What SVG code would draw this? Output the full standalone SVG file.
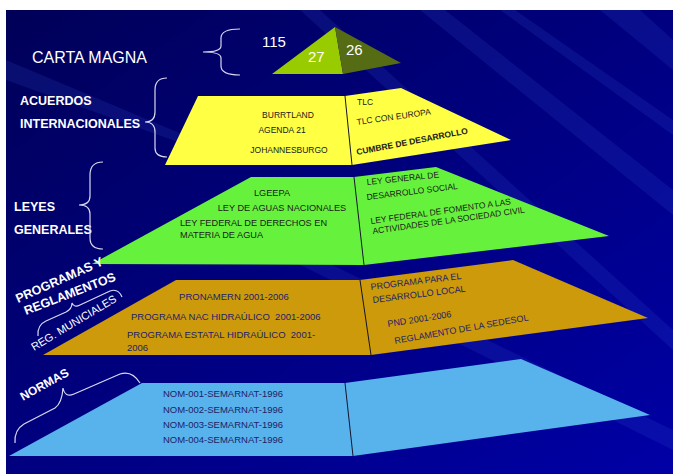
<svg xmlns="http://www.w3.org/2000/svg" width="673" height="474" viewBox="0 0 673 474">
<defs>
<linearGradient id="bg" x1="0" y1="0" x2="1" y2="1">
<stop offset="0" stop-color="#000058"/>
<stop offset="0.5" stop-color="#000080"/>
<stop offset="1" stop-color="#0000a6"/>
</linearGradient>
<style>
.lbl{font-family:"Liberation Sans",Arial,sans-serif;fill:#ffffff;font-weight:bold}
.lbn{font-family:"Liberation Sans",Arial,sans-serif;fill:#ffffff;font-weight:normal}
.num{font-family:"Liberation Sans",Arial,sans-serif;fill:#ffffff;font-size:15px}
.t{font-family:"Liberation Sans",Arial,sans-serif;font-size:8.5px;fill:#1a1a1a}
.tg{font-family:"Liberation Sans",Arial,sans-serif;font-size:9.2px;fill:#1a1a1a}
.tn{font-family:"Liberation Sans",Arial,sans-serif;font-size:9.5px;fill:#1e1e66}
.tr{font-family:"Liberation Sans",Arial,sans-serif;font-size:9px;fill:#1e1e66}
.brace{fill:none;stroke:#d8d8f0;stroke-width:1.2}
.div{stroke:#14142e;stroke-width:1;fill:none}
.streak{fill:#3a5ad8;opacity:0.16}
</style>
</defs>
<rect x="0" y="0" width="673" height="474" fill="#ffffff"/>
<rect x="6" y="10" width="667" height="464" fill="url(#bg)"/>
<g id="streaks">
<polygon class="streak" points="420,10 445,10 673,190 673,215"/>
<polygon class="streak" points="500,10 515,10 673,120 673,135"/>
<polygon class="streak" points="600,10 640,10 673,40 673,70"/>
<polygon class="streak" points="300,10 320,10 673,330 673,350"/>
<polygon class="streak" points="230,230 260,230 673,430 673,450"/>
<polygon class="streak" points="6,60 6,80 200,150 220,150"/>
</g>
<g id="carta-magna">
<polygon points="335,27 272,74 343,74" fill="#99cc00"/>
<polygon points="335,27 343,74 401,63" fill="#556b14"/>
<text class="num" x="262" y="47">115</text>
<text class="num" x="308" y="62">27</text>
<text class="num" x="346" y="55">26</text>
</g>
<g id="acuerdos">
<polygon points="198,96 345,96 401,88 511,140 352,165 165,165" fill="#ffff44"/>
<line class="div" x1="345" y1="96" x2="352" y2="165"/>
<text class="t" x="288" y="118" text-anchor="middle">BURRTLAND</text>
<text class="t" x="282" y="133" text-anchor="middle">AGENDA 21</text>
<text class="t" x="289" y="153" text-anchor="middle">JOHANNESBURGO</text>
<text class="t" x="357" y="105">TLC</text>
<text class="t" x="357" y="125" transform="rotate(-8 357 125)">TLC CON EUROPA</text>
<text class="t" x="357" y="155" font-weight="bold" transform="rotate(-11 357 155)">CUMBRE DE DESARROLLO</text>
</g>
<g id="leyes">
<polygon points="251,177 354,177 436,167 609,236 364,265 92,264" fill="#66f23c"/>
<line class="div" x1="354" y1="177" x2="364" y2="265"/>
<text class="tg" x="272" y="196" text-anchor="middle">LGEEPA</text>
<text class="tg" x="282" y="211" text-anchor="middle">LEY DE AGUAS NACIONALES</text>
<text class="tg" x="180" y="226">LEY FEDERAL DE DERECHOS EN</text>
<text class="tg" x="180" y="238">MATERIA DE AGUA</text>
<text class="t" x="367" y="185" transform="rotate(-6 367 185)">LEY GENERAL DE</text>
<text class="t" x="367" y="200" transform="rotate(-7 367 200)">DESARROLLO SOCIAL</text>
<text class="t" x="371" y="224" transform="rotate(-8 371 224)">LEY FEDERAL DE FOMENTO A LAS</text>
<text class="t" x="373" y="234" transform="rotate(-8 373 234)">ACTIVIDADES DE LA SOCIEDAD CIVIL</text>
</g>
<g id="programas">
<polygon points="176,280 360,280 513,260 648,318 371,355 43,355" fill="#cc9a0a"/>
<line class="div" x1="360" y1="280" x2="371" y2="355"/>
<text class="tn" x="234" y="300" text-anchor="middle">PRONAMERN 2001-2006</text>
<text class="tn" x="131" y="320" xml:space="preserve">PROGRAMA NAC HIDRAÚLICO  2001-2006</text>
<text class="tn" x="127" y="338" xml:space="preserve">PROGRAMA ESTATAL HIDRAÚLICO  2001-</text>
<text class="tn" x="127" y="351">2006</text>
<text class="tr" x="371" y="290" transform="rotate(-7 371 290)">PROGRAMA PARA EL</text>
<text class="tr" x="373" y="303" transform="rotate(-7 373 303)">DESARROLLO LOCAL</text>
<text class="tr" x="388" y="327" transform="rotate(-9 388 327)">PND 2001-2006</text>
<text class="tr" x="395" y="344" transform="rotate(-10 395 344)">REGLAMENTO DE LA SEDESOL</text>
</g>
<g id="normas">
<polygon points="142,383 345,383 521,359 650,415 353,456 9,456" fill="#58b2ec"/>
<line class="div" x1="345" y1="383" x2="353" y2="456"/>
<text class="tn" x="223" y="397" text-anchor="middle">NOM-001-SEMARNAT-1996</text>
<text class="tn" x="223" y="413" text-anchor="middle">NOM-002-SEMARNAT-1996</text>
<text class="tn" x="223" y="428" text-anchor="middle">NOM-003-SEMARNAT-1996</text>
<text class="tn" x="223" y="443" text-anchor="middle">NOM-004-SEMARNAT-1996</text>
</g>
<g id="labels">
<text class="lbn" x="32" y="63" font-size="16">CARTA MAGNA</text>
<text class="lbl" x="20" y="105" font-size="12.5">ACUERDOS</text>
<text class="lbl" x="20" y="128" font-size="12.5">INTERNACIONALES</text>
<text class="lbl" x="14" y="211" font-size="12.5">LEYES</text>
<text class="lbl" x="14" y="234" font-size="12.5">GENERALES</text>
<text class="lbl" x="18" y="303" font-size="12.5" transform="rotate(-24 18 303)">PROGRAMAS Y</text>
<text class="lbl" x="26" y="315" font-size="12.5" transform="rotate(-21 26 315)">REGLAMENTOS</text>
<text class="lbn" x="34" y="351" font-size="11" transform="rotate(-31 34 351)">REG. MUNICIALES</text>
<text class="lbl" x="23" y="401" font-size="12" transform="rotate(-29 23 401)">NORMAS</text>
</g>
<g id="connectors">
<path class="brace" d="M240,29 Q221,29 221,38 L221,46 Q221,52 203,52 Q221,52 221,58 L221,66 Q221,75 240,75"/>
<path class="brace" d="M167,78 Q155,78 155,90 L155,112 Q155,122 145,122 Q155,122 155,132 L155,148 Q155,157 167,157"/>
<path class="brace" d="M103,162 Q90,162 90,175 L90,196 Q90,205 79,205 Q90,205 90,214 L90,238 Q90,249 103,249"/>
<path class="brace" d="M38,336 Q37,325 46,321 L66,312 Q72,309 72,303 Q74,308 80,305 L110,291 Q118,288 122,297"/>
<path class="brace" d="M15,443 Q14,430 24,424 L55,408 Q62,403 63,388 Q65,398 74,394 L120,374 Q132,370 140,383"/>
</g>
</svg>
